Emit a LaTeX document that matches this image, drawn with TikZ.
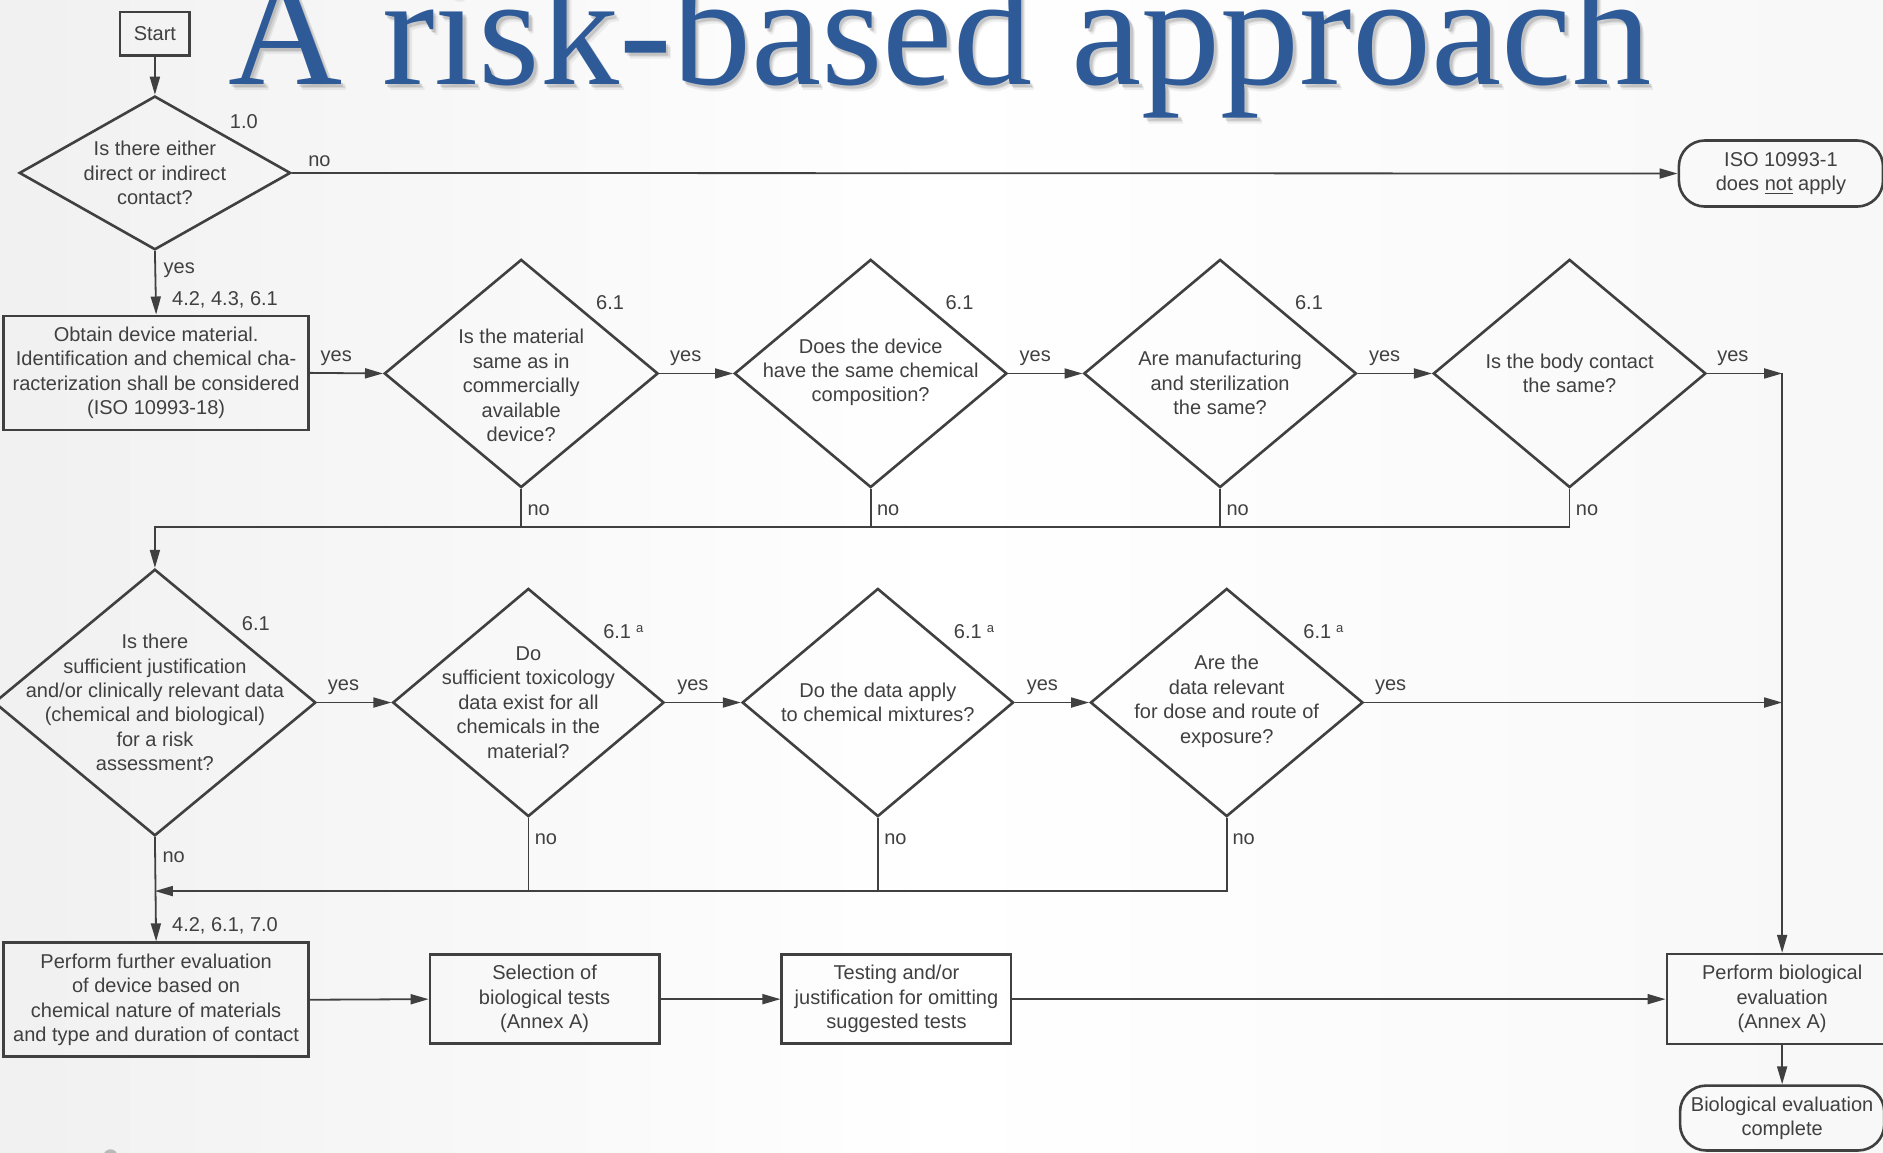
\documentclass[tikz,border=0pt]{standalone}
\usepackage{fontspec}
\setmainfont{Liberation Sans}
\newfontfamily\titlefont{Liberation Serif}
\usetikzlibrary{shapes.geometric,arrows.meta}
\definecolor{ink}{HTML}{404040}
\definecolor{titleblue}{HTML}{2E5A98}
\definecolor{bgL}{HTML}{E2E2E2}
\definecolor{bgR}{HTML}{F0F0F0}
\pgfdeclarehorizontalshading{bgshade}{100bp}{color(0bp)=(bgL); color(50bp)=(white); color(100bp)=(bgR)}
\tikzset{
  sz/.style 2 args={minimum width=#1*0.6pt, minimum height=#2*0.6pt},
  shp/.style={draw=ink, line width=1.3pt, inner sep=0pt, text=ink, align=center},
  boxn/.style={shp, rectangle},
  dia/.style={shp, diamond},
  term/.style={shp, rectangle, rounded corners=13pt},
  qtxt/.style={inner sep=0pt, text=ink, align=center},
  lbl/.style={inner sep=0pt, text=ink},
  conn/.style={draw=ink, line width=0.9pt},
  arr/.style={conn, -{Triangle[length=9pt,width=5pt]}},
}
\newcommand{\supa}{\hspace{2.5pt}\raisebox{3pt}{\fontsize{6.5}{7}\selectfont a}}
\begin{document}
\begin{tikzpicture}[x=0.6pt,y=-0.6pt,font=\fontsize{10}{12.2}\selectfont]
\useasboundingbox (0,0) rectangle (1568,960);
\clip (0,0) rectangle (1568,960);
\fill[shading=bgshade] (0,0) rectangle (1568,960);
\fill[gray!55] (92,963) circle (6);

% title with soft shadow
\foreach \dx/\dy/\op in {4/5/0.06,3/4/0.08,2/3/0.10}{
  \node[anchor=base west, inner sep=0pt, font=\titlefont\fontsize{79}{80}\selectfont, text=black, opacity=\op] at (190+\dx,70+\dy) {A risk-based approach};
}
\node[anchor=base west, inner sep=0pt, font=\titlefont\fontsize{79}{80}\selectfont, text=titleblue] (title) at (190,70) {A risk-based approach};

% nodes
\node[boxn, sz={58}{36}] (start) at (129,28) {Start};
\node[dia, sz={226}{128}] (d1) at (129,144) {};
\node[qtxt] (d1t) at (129,144) {Is there either\\direct or indirect\\contact?};
\node[term, sz={170}{55}] (iso) at (1483,144.5) {ISO 10993-1\\does \underline{not} apply};

\node[boxn, sz={254}{95}] (b1) at (130,310.5) {Obtain device material.\\Identification and chemical cha-\\racterization shall be considered\\(ISO 10993-18)};

\node[dia, sz={228}{190}] (d2) at (434,311) {};
\node[qtxt] (d2t) at (434,321) {Is the material\\same as in\\commercially\\available\\device?};
\node[dia, sz={227}{190}] (d3) at (725,311) {};
\node[qtxt] (d3t) at (725,310) {Does the device\\have the same chemical\\composition?};
\node[dia, sz={227}{190}] (d4) at (1016,311) {};
\node[qtxt] (d4t) at (1016,319) {Are manufacturing\\and sterilization\\the same?};
\node[dia, sz={227}{190}] (d5) at (1307,311) {};
\node[qtxt] (d5t) at (1307,311) {Is the body contact\\the same?};

\node[dia, sz={268}{222}] (d6) at (129,585) {};
\node[qtxt] (d6t) at (129,585) {Is there\\sufficient justification\\and/or clinically relevant data\\(chemical and biological)\\for a risk\\assessment?};
\node[dia, sz={226}{190}] (d7) at (440,585) {};
\node[qtxt] (d7t) at (440,585) {Do\\sufficient toxicology\\data exist for all\\chemicals in the\\material?};
\node[dia, sz={226}{190}] (d8) at (731,585) {};
\node[qtxt] (d8t) at (731,585) {Do the data apply\\to chemical mixtures?};
\node[dia, sz={227}{190}] (d9) at (1021.5,585) {};
\node[qtxt] (d9t) at (1021.5,584) {Are the\\data relevant\\for dose and route of\\exposure?};

\node[boxn, sz={254}{95}] (b2) at (130,832.5) {Perform further evaluation\\of device based on\\chemical nature of materials\\and type and duration of contact};
\node[boxn, sz={191}{74}] (b3) at (453.5,832) {Selection of\\biological tests\\(Annex A)};
\node[boxn, sz={191}{74}] (b4) at (746.5,832) {Testing and/or\\justification for omitting\\suggested tests};
\node[boxn, sz={192}{75}] (b5) at (1484,832) {Perform biological\\evaluation\\(Annex A)};
\node[term, sz={170}{54}] (t2) at (1484,931) {Biological evaluation\\complete};

% junction coordinates
\coordinate (j1) at (129,439);
\coordinate (j2) at (129,742);
\coordinate (j3) at (b5.north |- d5.east);
\coordinate (j4) at (b5.north |- d9.east);

% connectors
\draw[arr] (start) -- (d1);
\draw[arr] (d1.east) -- (iso.west);
\draw[arr] (d1.south) -- (b1.north);
\draw[arr] (b1.east) -- (d2.west);
\draw[arr] (d2.east) -- (d3.west);
\draw[arr] (d3.east) -- (d4.west);
\draw[arr] (d4.east) -- (d5.west);
\draw[arr] (d5.east) -- (j3);
\draw[conn] (d2.south) -- (d2.south |- j1);
\draw[conn] (d3.south) -- (d3.south |- j1);
\draw[conn] (d4.south) -- (d4.south |- j1);
\draw[arr] (d5.south) |- (j1) -- (d6.north);
\draw[arr] (d6.east) -- (d7.west);
\draw[arr] (d7.east) -- (d8.west);
\draw[arr] (d8.east) -- (d9.west);
\draw[arr] (d9.east) -- (j4);
\draw[conn] (d7.south) -- (d7.south |- j2);
\draw[conn] (d8.south) -- (d8.south |- j2);
\draw[arr] (d9.south) |- (j2);
\draw[arr] (d6.south) -- (b2.north);
\draw[arr] (j3) -- (b5.north);
\draw[arr] (b2.east) -- (b3.west);
\draw[arr] (b3.east) -- (b4.west);
\draw[arr] (b4.east) -- (b5.west);
\draw[arr] (b5.south) -- (t2.north);

% labels
\node[lbl] (l10) at (203,101) {1.0};
\node[lbl] (lno0) at (266,134) {no};
\node[lbl, anchor=west] (lyes0) at (136,225) {yes};
\node[lbl, anchor=west] (lref1) at (143,250) {4.2, 4.3, 6.1};
\node[lbl] (ly1) at (280,298) {yes};
\node[lbl] (ly2) at (571,298) {yes};
\node[lbl] (ly3) at (862,298) {yes};
\node[lbl] (ly4) at (1153,298) {yes};
\node[lbl] (ly5) at (1443,298) {yes};
\node[lbl] (s2) at (508,252) {6.1};
\node[lbl] (s3) at (799,252) {6.1};
\node[lbl] (s4) at (1090,252) {6.1};
\node[lbl, anchor=west] (ln2) at (439,425) {no};
\node[lbl, anchor=west] (ln3) at (730,425) {no};
\node[lbl, anchor=west] (ln4) at (1021,425) {no};
\node[lbl, anchor=west] (ln5) at (1312,425) {no};
\node[lbl] (s6) at (213,519) {6.1};
\node[lbl, anchor=west] (s7) at (502,526) {6.1\supa};
\node[lbl, anchor=west] (s8) at (794,526) {6.1\supa};
\node[lbl, anchor=west] (s9) at (1085,526) {6.1\supa};
\node[lbl] (ly6) at (286,572) {yes};
\node[lbl] (ly7) at (577,572) {yes};
\node[lbl] (ly8) at (868,572) {yes};
\node[lbl] (ly9) at (1158,572) {yes};
\node[lbl, anchor=west] (ln6) at (135,714) {no};
\node[lbl, anchor=west] (ln7) at (445,699) {no};
\node[lbl, anchor=west] (ln8) at (736,699) {no};
\node[lbl, anchor=west] (ln9) at (1026,699) {no};
\node[lbl, anchor=west] (lref2) at (143,771) {4.2, 6.1, 7.0};
\end{tikzpicture}
\end{document}
